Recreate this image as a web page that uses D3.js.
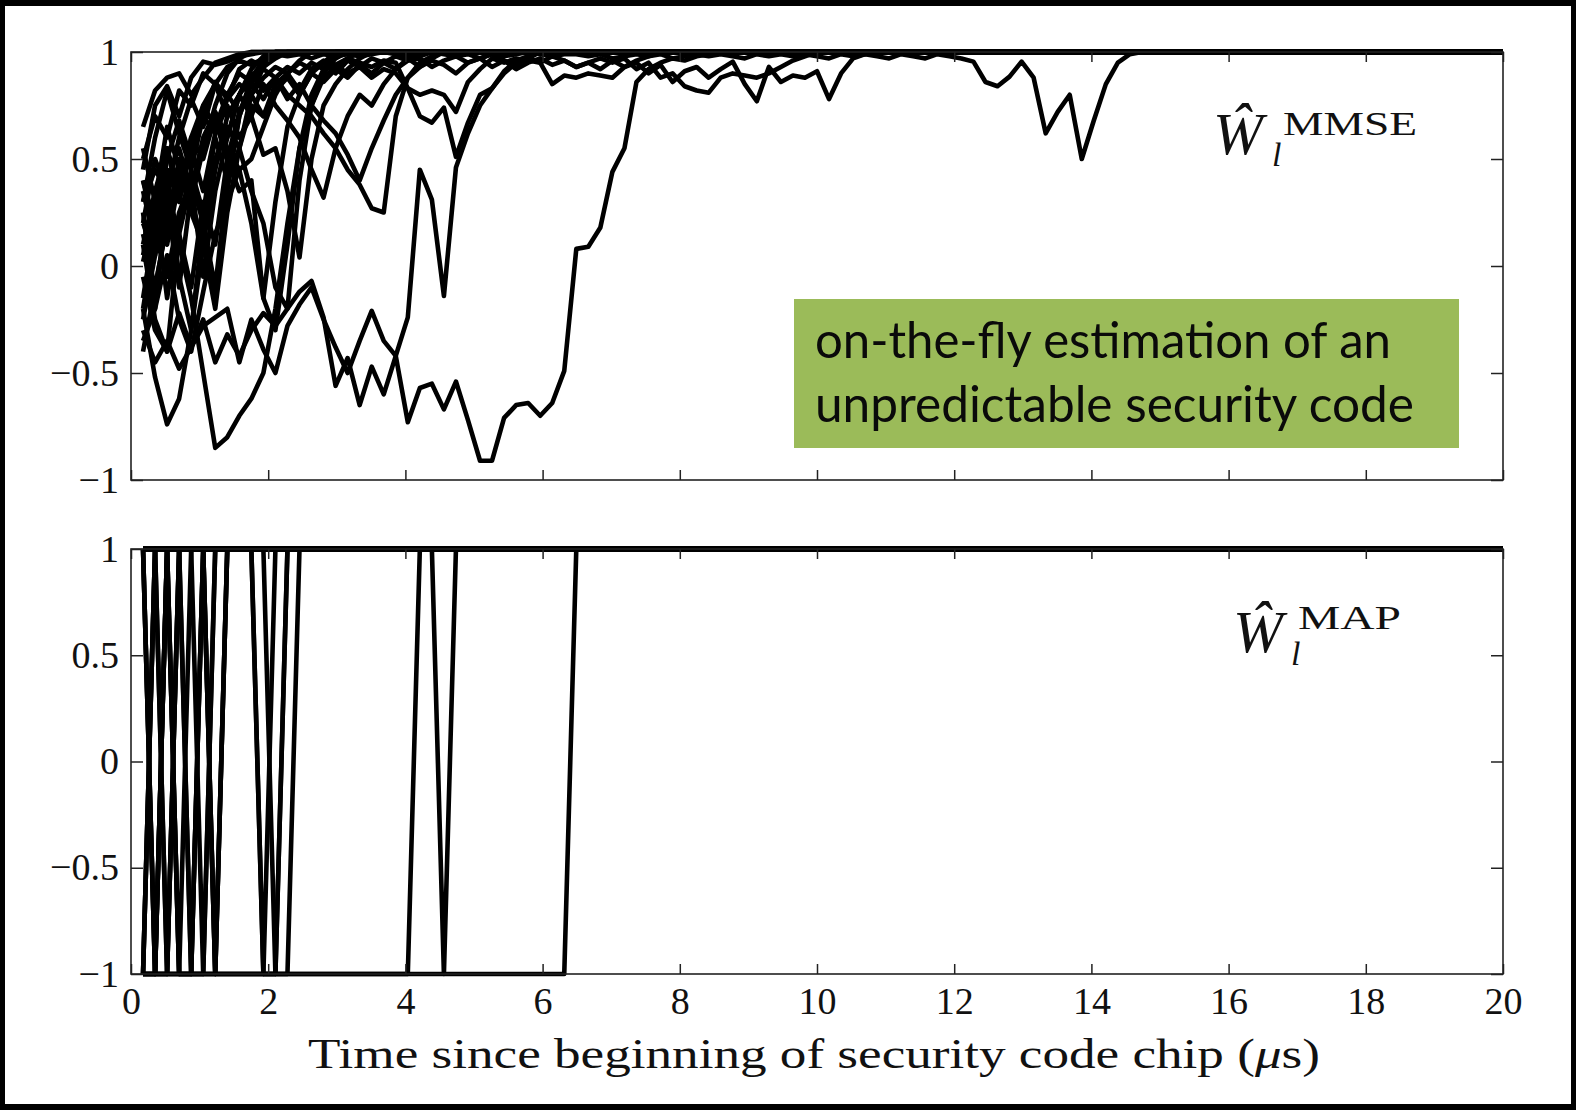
<!DOCTYPE html>
<html><head><meta charset="utf-8">
<script src="https://cdn.jsdelivr.net/npm/d3@7"></script>
<style>
html,body{margin:0;padding:0;background:#000;}
svg{display:block;}
</style></head><body>
<svg id="chart" width="1576" height="1110"></svg>
<script>
// ---- data ----
const sampleStep = 20 / 114;   // μs between successive estimates (first estimate at one step)
const timeEnd = 20;
const settledValue = 1;
const xTicks = [0, 2, 4, 6, 8, 10, 12, 14, 16, 18, 20];
const yTicks = [-1, -0.5, 0, 0.5, 1];
const xLabel = "Time since beginning of security code chip (";
const topLabelSup = "MMSE";
const bottomLabelSup = "MAP";
const noteLines = ["on-the-fly estimation of an", "unpredictable security code"];

// MMSE estimates (values until they settle at 1)
const mmse01 = [0.65,0.82,0.88,0.90,0.80,0.88,0.95,0.97,0.99,1];
const mmse02 = [0.45,0.75,0.84,0.70,0.88,0.955,0.94,0.955,0.98,0.99,1];
const mmse03 = [0.30,0.60,0.82,0.62,0.45,0.70,0.86,0.78,0.92,0.96,0.93,0.98,1];
const mmse04 = [-0.20,-0.52,-0.74,-0.62,-0.30,0.10,0.45,0.70,0.80,0.88,0.93,0.97,1];
const mmse05 = [0.30,0.45,0.35,0.10,-0.15,-0.50,-0.85,-0.80,-0.70,-0.62,-0.50,-0.20,0.20,0.55,0.75,0.88,0.93,0.97,1];
const mmse06 = [-0.05,-0.30,-0.40,-0.22,-0.38,-0.25,-0.45,-0.32,-0.42,-0.30,-0.22,-0.28,-0.20,-0.12,-0.07,-0.24,-0.56,-0.43,-0.65,-0.47,-0.60,-0.42,-0.73,-0.57,-0.55,-0.67,-0.54,-0.72,-0.91,-0.91,-0.71,-0.65,-0.64,-0.70,-0.64,-0.49,0.08,0.09,0.18,0.44,0.55,0.86,0.92,0.95,0.97,0.96,0.98,0.99,1];
const mmse07 = [-0.30,-0.45,-0.35,-0.48,-0.38,-0.28,-0.24,-0.20,-0.45,-0.25,-0.39,-0.50,-0.28,-0.18,-0.10,-0.25,-0.38,-0.50,-0.35,-0.21,-0.35,-0.42,-0.24,0.45,0.31,-0.14,0.46,0.62,0.75,0.83,0.91,0.96,0.98,1];
const mmse08 = [0.10,0.35,0.55,0.30,0.60,0.75,0.65,0.80,0.72,0.85,0.78,0.88,0.80,0.75,0.70,0.62,0.55,0.45,0.38,0.27,0.25,0.70,0.88,0.95,0.98,1];
const mmse09 = [0.20,0.05,0.40,0.55,0.35,0.60,0.72,0.60,0.80,0.70,0.85,0.75,0.68,0.60,0.45,0.32,0.55,0.70,0.80,0.75,0.85,0.92,0.96,0.98,1];
const mmse10 = [0.02,0.25,0.10,0.40,0.55,0.35,0.62,0.75,0.60,0.70,0.52,0.55,0.35,0.04,0.50,0.75,0.85,0.92,0.97,1];
const mmse11 = [0.40,0.15,0.50,0.68,0.50,0.75,0.85,0.70,0.80,0.90,0.82,0.88,0.78,0.85,0.75,0.68,0.62,0.52,0.40,0.55,0.68,0.80,0.88,0.93,0.97,1];
const mmse12 = [0.20,0.50,0.35,0.60,0.78,0.65,0.85,0.80,0.90,0.86,0.92,0.88,0.93,0.90,0.95,0.92,0.94,0.90,0.93,0.88,0.92,0.90,0.83,0.70,0.67,0.74,0.51,0.67,0.80,0.83,0.90,0.95,0.97,1];
const mmse13 = [0.35,0.10,0.45,0.30,0.55,0.70,0.62,0.78,0.85,0.80,0.88,0.93,0.90,0.95,0.92,0.96,0.94,0.97,0.95,0.93,0.96,0.95,0.83,0.80,0.82,0.80,0.72,0.86,0.92,0.97,0.95,0.97,0.96,0.95,0.85,0.89,0.88,0.90,0.89,0.88,0.93,0.96,0.98,1];
const mmse14 = [0.15,-0.10,0.20,0.45,0.30,0.55,0.68,0.50,0.72,0.80, 0.70,0.85,0.90,0.82,0.92,0.95,0.90,0.96,0.93,0.97, 0.95,0.98,0.96,0.97,0.93,0.96,0.98,0.95,0.97,0.99, 0.96,0.94,0.97,0.95,0.98,0.96,0.93,0.95,0.92,0.96, 0.93,0.95,0.90,0.94,0.86,0.91,0.93,0.88,0.92,0.955, 0.85,0.77,0.93,0.86,0.89,0.88,0.91,0.78,0.90,0.97, 0.99,1];
const mmse15 = [-0.20,0.15,-0.05,0.25,0.40,0.20,0.50,0.65,0.55,0.75, 0.70,0.82,0.88,0.80,0.90,0.86,0.92,0.88,0.94,0.90, 0.95,0.92,0.97,0.93,0.96,0.94,0.90,0.95,0.97,0.93, 0.96,0.92,0.95,0.97,0.94,0.96,0.93,0.95,0.97,0.95, 0.97,0.92,0.95,0.88,0.90,0.84,0.82,0.81,0.88,0.90, 0.89,0.88,0.90,0.93,0.96,0.98,1];
const mmse16 = [0.50,0.70,0.60,0.82,0.75,0.90,0.85,0.93,0.96,0.94, 0.97,0.99,0.98,0.99,0.97,0.99,0.98,0.99,0.98,0.99, 1,0.99,0.98,0.99,1,0.99,0.98,0.99,0.97,0.99, 0.98,0.99,1,0.99,0.98,0.99,0.99,0.98,0.99,0.97, 0.98,0.99,0.98,0.99,0.97,0.98,0.99,0.98,0.99,0.98, 0.97,0.99,0.98,0.99,0.98,0.99,0.98,0.97,0.99,0.98, 0.99,0.98,0.97,0.99,0.98,0.97,0.99,0.98,0.97,0.955, 0.86,0.84,0.885,0.955,0.88,0.62,0.72,0.80,0.50,0.68, 0.85,0.95,0.99,1];
const mmse17 = [0.05,0.30,-0.15,0.20,0.45,0.25,0.60,0.40,0.55,0.35,0.20,-0.10,-0.20,0.40,0.75,0.90,0.97,1];
const mmse18 = [-0.25,0.05,0.35,0.15,-0.10,0.30,0.10,0.50,0.35,0.40,-0.15,0.30,0.65,0.80,0.90,0.95,1];
const mmse19 = [0.55,0.30,0.65,0.45,0.25,0.10,-0.15,0.35,0.70,0.88,0.96,1];
const mmse20 = [-0.35,-0.20,0.05,-0.25,-0.40,-0.12,0.15,0.30,0.45,0.50,0.65,0.80,0.90,0.96,1];
const mmse21 = [0.25,-0.20,0.30,-0.10,0.35,0.55,0.75,0.90,0.97,1];
const mmse22 = [-0.15,0.20,0.45,-0.05,-0.30,0.20,-0.10,0.40,0.70,0.85,0.95,1];
const mmse23 = [0.10,-0.25,-0.40,0.15,0.40,-0.05,0.35,0.60,0.80,0.92,0.98,1];
const mmse24 = [-0.40,-0.10,0.20,0.50,0.30,0.10,-0.20,0.25,0.55,0.80,0.93,1];
const mmse25 = [0.40,0.20,0.55,0.35,0.60,0.50,0.70,0.55,0.45,0.20,-0.15,-0.30,0.10,0.55,0.80,0.92,1];

// MAP decisions (±1) until they settle at 1
const map01 = [1];
const map02 = [1];
const map03 = [1];
const map04 = [-1,-1,-1,-1,-1,1];
const map05 = [1,1,1,1,-1,-1,-1,-1,-1,-1,-1,-1,1];
const map06 = [-1,-1,-1,-1,-1,-1, -1,-1,-1,-1,-1,-1, -1,-1,-1,-1,-1,-1, -1,-1,-1,-1,-1,-1, -1,-1,-1,-1,-1,-1, -1,-1,-1,-1,-1,-1, 1];
const map07 = [-1,-1,-1,-1,-1,-1, -1,-1,-1,-1,-1,-1, -1,-1,-1,-1,-1,-1, -1,-1,-1,-1,-1, 1,1,-1,1];
const map08 = [1];
const map09 = [1];
const map10 = [1];
const map11 = [1];
const map12 = [1];
const map13 = [1];
const map14 = [1,-1,1];
const map15 = [-1,1,-1,1];
const map16 = [1];
const map17 = [1,1,-1,1,1,1,1,1,1,1,1,-1,-1,1];
const map18 = [-1,1,1,1,-1,1,1,1,1,1,-1,1];
const map19 = [1,1,1,1,1,1,-1,1];
const map20 = [-1,-1,1,-1,-1,-1,1];
const map21 = [1,-1,1,-1,1];
const map22 = [-1,1,1,-1,-1,1,-1,1];
const map23 = [1,-1,-1,1,1,-1,1];
const map24 = [-1,-1,1,1,1,1,-1,1];
const map25 = [1,1,1,1,1,1,1,1,1,1,-1,-1,1];

const mmseSeries = [mmse01,mmse02,mmse03,mmse04,mmse05,mmse06,mmse07,mmse08,mmse09,mmse10,
                    mmse11,mmse12,mmse13,mmse14,mmse15,mmse16,mmse17,mmse18,mmse19,mmse20,
                    mmse21,mmse22,mmse23,mmse24,mmse25];
const mapSeries = [map01,map02,map03,map04,map05,map06,map07,map08,map09,map10,
                   map11,map12,map13,map14,map15,map16,map17,map18,map19,map20,
                   map21,map22,map23,map24,map25];

// ---- drawing ----
const svg = d3.select("#chart");
svg.append("rect").attr("width", 1576).attr("height", 1110).attr("fill", "#000");
svg.append("rect").attr("x", 5).attr("y", 6).attr("width", 1566).attr("height", 1098).attr("fill", "#fff");

const x = d3.scaleLinear().domain([0, 20]).range([131, 1503]);
const yTop = d3.scaleLinear().domain([-1, 1]).range([480, 52]);
const yBot = d3.scaleLinear().domain([-1, 1]).range([974, 549]);

function toPoints(vals) {
  const pts = vals.map((v, i) => [(i + 1) * sampleStep, v]);
  pts.push([timeEnd, settledValue]);
  return pts;
}

const axisColor = "#222";
const tickFont = "'Liberation Serif', 'Times New Roman', serif";

function panel(y, series, showXLabels) {
  const g = svg.append("g");
  const line = d3.line().x(d => x(d[0])).y(d => y(d[1]));
  g.append("g").selectAll("path").data(series).join("path")
    .attr("d", s => line(toPoints(s)))
    .attr("fill", "none").attr("stroke", "#000").attr("stroke-width", 4.6)
    .attr("stroke-linejoin", "round").attr("stroke-linecap", "butt");

  const [y0, y1] = [y(-1), y(1)];
  const style = a => {
    a.select(".domain").remove();
    a.selectAll(".tick line").attr("stroke", axisColor).attr("stroke-width", 1.5);
    a.selectAll("text").attr("font-family", tickFont).attr("font-size", 38).attr("fill", "#111");
  };
  g.append("g").attr("transform", `translate(0,${y0})`)
    .call(d3.axisBottom(x).tickValues(xTicks).tickSize(-10).tickSizeOuter(0).tickPadding(13)
      .tickFormat(showXLabels ? d3.format("") : () => ""))
    .call(style);
  g.append("g").attr("transform", `translate(0,${y1})`)
    .call(d3.axisTop(x).tickValues(xTicks).tickSize(-10).tickSizeOuter(0).tickFormat(() => ""))
    .call(style);
  g.append("g").attr("transform", `translate(${x(0)},0)`)
    .call(d3.axisLeft(y).tickValues(yTicks).tickSize(-12).tickSizeOuter(0).tickPadding(12).tickFormat(d3.format("")))
    .call(style);
  g.append("g").attr("transform", `translate(${x(20)},0)`)
    .call(d3.axisRight(y).tickValues(yTicks).tickSize(-12).tickSizeOuter(0).tickFormat(() => ""))
    .call(style);
  g.append("rect").attr("x", x(0)).attr("y", y1).attr("width", x(20) - x(0)).attr("height", y0 - y1)
    .attr("fill", "none").attr("stroke", axisColor).attr("stroke-width", 1.6);
  return g;
}

panel(yTop, mmseSeries, false);
panel(yBot, mapSeries, true);

// estimator labels
function estLabel(xw, baseW, sup, xs, baseS, lenS, xl, baseL) {
  const g = svg.append("g").attr("font-family", tickFont).attr("fill", "#111");
  g.append("text").attr("x", xw).attr("y", baseW).attr("font-size", 60).attr("font-style", "italic").text("\u0174");
  g.append("text").attr("x", xs).attr("y", baseS).attr("font-size", 33)
    .attr("textLength", lenS).attr("lengthAdjust", "spacingAndGlyphs").text(sup);
  g.append("text").attr("x", xl).attr("y", baseL).attr("font-size", 34).attr("font-style", "italic").text("l");
}
estLabel(1213, 154, topLabelSup, 1283, 135, 134, 1272, 166);
estLabel(1233, 652, bottomLabelSup, 1298, 629, 103, 1291, 665);

// x-axis title
const xt = svg.append("text").attr("x", 814).attr("y", 1068).attr("text-anchor", "middle")
  .attr("font-family", tickFont).attr("font-size", 42).attr("fill", "#111")
  .attr("textLength", 1012).attr("lengthAdjust", "spacingAndGlyphs");
xt.append("tspan").text(xLabel);
xt.append("tspan").attr("font-style", "italic").text("\u03BC");
xt.append("tspan").text("s)");

// green note box
svg.append("rect").attr("x", 794).attr("y", 299).attr("width", 665).attr("height", 149).attr("fill", "#9BBB59");
const noteLens = [576, 599];
noteLines.forEach((t, i) => {
  svg.append("text").attr("x", 815).attr("y", 358 + i * 64)
    .attr("font-family", "Lato, 'Open Sans', sans-serif").attr("font-size", 51).attr("fill", "#0a0a0a")
    .attr("textLength", noteLens[i]).attr("lengthAdjust", "spacingAndGlyphs").text(t);
});
</script>
</body></html>
